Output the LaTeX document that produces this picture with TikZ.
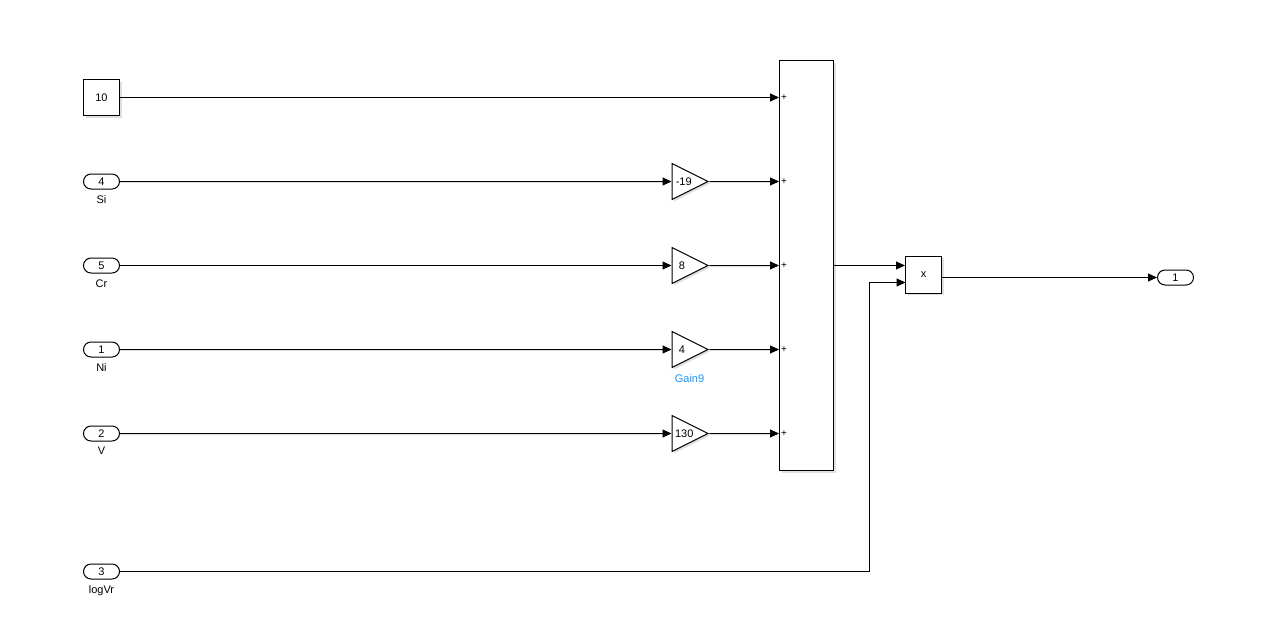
\documentclass[tikz,border=0pt]{standalone}
\usepackage{fontspec}
\setmainfont{Liberation Sans}
\usetikzlibrary{positioning,shapes,calc,arrows.meta,shadows}
\definecolor{gainblue}{RGB}{20,150,255}
\tikzset{
    blk/.style={draw,fill=white,inner sep=0pt,minimum width=36,minimum height=36,line width=1pt,drop shadow={shadow xshift=2pt,shadow yshift=-2pt,opacity=0.25}},
    port/.style={draw,fill=white,rounded rectangle,inner sep=0pt,minimum width=36,minimum height=15,line width=1pt},
    gain/.style={draw,fill=white,isosceles triangle,isosceles triangle stretches,inner sep=0pt,minimum width=36,minimum height=36,anchor=lower side,line width=1pt,drop shadow={shadow xshift=2pt,shadow yshift=-2pt,opacity=0.25}},
    plus/.style={anchor=west,inner sep=1.5pt,font=\fontsize{10}{10}\selectfont},
}
\begin{document}
\begin{tikzpicture}[x=1pt,y=-1pt,shift={(0.5,0.5)},->,>={Triangle[length=9pt,width=8pt]},line width=1pt,every node/.style={font=\fontsize{11}{12}\selectfont}]
        \useasboundingbox (-0.5,-0.5) rectangle (1281.5,631.5);
        % sources
        \node[blk] (c1) at (101,97) {10};
        \node[port] (in1) at (101,181) {4};
        \node[] (n1) [below=2pt of in1] {Si};
        \node[port] (in2) at (101,265) {5};
        \node[] (n2) [below=2pt of in2] {Cr};
        \node[port] (in3) at (101,349) {1};
        \node[] (n3) [below=2pt of in3] {Ni};
        \node[port] (in4) at (101,433) {2};
        \node[] (n4) [below=2pt of in4] {V};
        \node[port] (lg) at (101,571) {3};
        \node[] (n5) [below=2pt of lg] {logVr};

        % gains
        \node[gain] (g1) at (671,181) {-19};
        \node[gain] (g2) at (671,265) {8};
        \node[gain] (g3) at (671,349) {4};
        \node[gain] (g4) at (671,433) {130};
        \node[text=gainblue] (gn) at (689,378) {Gain9};

        % sum, product, out
        \node[blk,minimum width=54,minimum height=410] (sum) at (806,265) {};
        \node[plus] (s1) at (c1 -| sum.west) {+};
        \node[plus] (s2) at (g1 -| sum.west) {+};
        \node[plus] (s3) at (g2 -| sum.west) {+};
        \node[plus] (s4) at (g3 -| sum.west) {+};
        \node[plus] (s5) at (g4 -| sum.west) {+};
        \node[blk,minimum height=37] (prod) at (923,274) {x};
        \node[port] (out) at (1175,277) {1};
        \coordinate (k1) at (869,282);
        \coordinate (p2) at (905,282);
        \coordinate (q1) at ($(prod.east)+(0,3)$);

        \path
            (c1) edge (c1 -| sum.west)
            (in1) edge (g1)
            (in2) edge (g2)
            (in3) edge (g3)
            (in4) edge (g4)
            (g1) edge (g1 -| sum.west)
            (g2) edge (g2 -| sum.west)
            (g3) edge (g3 -| sum.west)
            (g4) edge (g4 -| sum.west)
            (sum) edge (sum.east -| prod.west)
            (q1) edge (out)
            ;
        \draw (lg) -| (k1) -- (p2);
\end{tikzpicture}
\end{document}
